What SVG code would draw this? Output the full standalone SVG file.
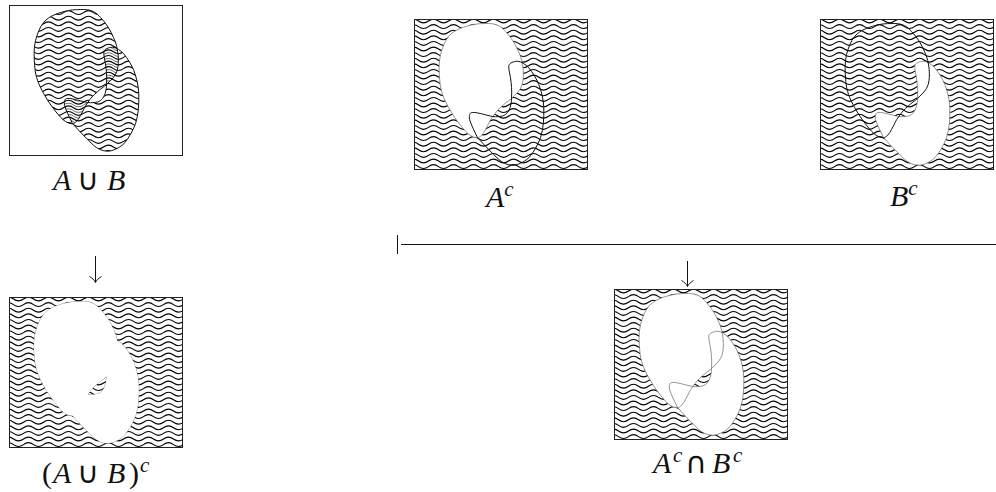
<svg xmlns="http://www.w3.org/2000/svg" width="996" height="492" viewBox="0 0 996 492">
<style>
.frame{fill:#fff;stroke:#222;stroke-width:1}
.box{fill:none;stroke:#222;stroke-width:1}
.bold{fill:none;stroke:#111;stroke-width:1}
.thin{fill:none;stroke:#666;stroke-width:.7}
.white{fill:#fff;stroke:none}
.w{fill:none;stroke:#000;stroke-width:1.1}
.lobe{stroke-width:.6;stroke:#000;fill:none}
text{font-family:"Liberation Serif","Times New Roman",serif;font-size:30px;fill:#111}
.i{font-style:italic}
.sup{font-size:21px;font-style:italic}
.op{font-family:"DejaVu Sans",sans-serif;font-size:30px;font-style:normal}
.conn{fill:none;stroke:#111;stroke-width:1}
</style>
<defs>
<path id="wl" d="M-6,0 c3,-2.3 7,-2.3 10,0 s7,2.3 10,0 s7,-2.3 10,0 s7,2.3 10,0 s7,-2.3 10,0 s7,2.3 10,0 s7,-2.3 10,0 s7,2.3 10,0 s7,-2.3 10,0 s7,2.3 10,0 s7,-2.3 10,0 s7,2.3 10,0 s7,-2.3 10,0 s7,2.3 10,0 s7,-2.3 10,0 s7,2.3 10,0 s7,-2.3 10,0 s7,2.3 10,0 s7,-2.3 10,0"/>
<g id="waves">
<use href="#wl" y="1.5"/><use href="#wl" y="7.1"/><use href="#wl" y="12.7"/><use href="#wl" y="18.3"/><use href="#wl" y="23.9"/><use href="#wl" y="29.5"/><use href="#wl" y="35.1"/><use href="#wl" y="40.7"/><use href="#wl" y="46.3"/><use href="#wl" y="51.9"/><use href="#wl" y="57.5"/><use href="#wl" y="63.1"/><use href="#wl" y="68.7"/><use href="#wl" y="74.3"/><use href="#wl" y="79.9"/><use href="#wl" y="85.5"/><use href="#wl" y="91.1"/><use href="#wl" y="96.7"/><use href="#wl" y="102.3"/><use href="#wl" y="107.9"/><use href="#wl" y="113.5"/><use href="#wl" y="119.1"/><use href="#wl" y="124.7"/><use href="#wl" y="130.3"/><use href="#wl" y="135.9"/><use href="#wl" y="141.5"/><use href="#wl" y="147.1"/>
</g>
<path id="A" d="M59,5 C64,4 70,4 74,4 C82,4 87,7 91,12 C97,18 101,25 104,32 C107,38 108,44 108.7,50 C109,56 109,60 107.7,65 C106,71 102,74 97,79 C94,81.5 91,83.5 87.7,86.5 C84,89.5 81,93 78.3,97 C75,101 74,105 71,110 C69,114 66,118 62.7,118.3 C58,118 54,115 51,111.7 C45,105 39,97 34.3,88.3 C29,79 26,71 25.3,61.7 C24.5,52 24,44 26,35 C28,28 30,22 34.3,16.7 C40,10 50,7 59,5 Z"/>
<path id="B" d="M94.3,46 C95,43.5 99,42 102.7,41.7 C107,42 111,45 114.3,48.3 C118,53 122,59 124.3,65 C127,72 129,80 129.3,88.3 C129.5,99 129,109 126,118.3 C123,126 119,133 114.3,138.3 C109,143 103,145.7 97.7,145.7 C92,145.5 88,143 84.3,140 C78,134 71,127 63,118 C60,112 57,106 55,100 C54.5,96 55,93 57.7,93 C61,92.5 65,94 68,94.5 C72,95.5 75,96.5 78.3,97 C82,97.5 85,97 88,96.5 C92,95.5 95,91 96,86.5 C96.8,84 97,81 97,79 C97.5,71 97,65 96,58.3 C95,53 94,49 94.3,46 Z"/>
<clipPath id="clipA"><use href="#A"/></clipPath>
<clipPath id="clipB"><use href="#B"/></clipPath>
<clipPath id="clipU"><use href="#A"/><use href="#B"/></clipPath>
<clipPath id="clipF"><rect width="173" height="150"/></clipPath>
<marker id="head" viewBox="0 0 14 10" refX="7" refY="9" markerWidth="14" markerHeight="10" markerUnits="userSpaceOnUse" orient="0">
<path d="M1,3.5 C3.5,5 6,7 7,9.5 C8,7 10.5,5 13,3.5" fill="none" stroke="#111" stroke-width="1"/>
</marker>
</defs>
<rect width="996" height="492" fill="#fff"/>

<g id="union" transform="translate(9.5,5.5)">
<rect class="frame" width="173" height="150"/>
<g clip-path="url(#clipU)"><use href="#waves" class="w"/></g>
<g clip-path="url(#clipA)"><g clip-path="url(#clipB)"><use href="#waves" y="2.8" class="lobe"/></g></g>
<use href="#A" class="bold"/>
<use href="#B" class="bold"/>
</g>
<text id="label-union" y="190"><tspan class="i" x="53">A</tspan><tspan class="op" x="77">∪</tspan><tspan class="i" x="107">B</tspan></text>

<g id="comp-a" transform="translate(414.5,19.5)">
<rect class="frame" width="173" height="150"/>
<g clip-path="url(#clipF)"><use href="#waves" class="w"/></g>
<use href="#A" class="white"/>
<use href="#A" class="thin"/>
<use href="#B" class="bold"/>
<rect class="box" width="173" height="150"/>
</g>
<text id="label-comp-a" x="486" y="207" class="i">A<tspan class="sup" dy="-11">c</tspan></text>

<g id="comp-b" transform="translate(820.5,19.5)">
<rect class="frame" width="173" height="150"/>
<g clip-path="url(#clipF)"><use href="#waves" class="w"/></g>
<use href="#B" class="white"/>
<use href="#B" class="thin"/>
<use href="#A" class="bold"/>
<rect class="box" width="173" height="150"/>
</g>
<text id="label-comp-b" x="890" y="206" class="i">B<tspan class="sup" dy="-11">c</tspan></text>

<g id="comp-union" transform="translate(9.5,297.5)">
<rect class="frame" width="173" height="150"/>
<g clip-path="url(#clipF)"><use href="#waves" class="w"/></g>
<use href="#A" class="thin"/>
<use href="#B" class="thin"/>
<use href="#A" class="white"/>
<use href="#B" class="white"/>
<rect class="box" width="173" height="150"/>
</g>
<text id="label-comp-union" y="483"><tspan x="42">(</tspan><tspan class="i" x="53">A</tspan><tspan class="op" x="77">∪</tspan><tspan class="i" x="107">B</tspan><tspan x="129">)</tspan><tspan class="sup" x="140" dy="-11">c</tspan></text>

<g id="intersection" transform="translate(614.5,289.5)">
<rect class="frame" width="173" height="150"/>
<g clip-path="url(#clipF)"><use href="#waves" class="w"/></g>
<use href="#A" class="white"/>
<use href="#B" class="white"/>
<use href="#A" class="thin"/>
<use href="#B" class="thin"/>
<rect class="box" width="173" height="150"/>
</g>
<text id="label-intersection" y="473"><tspan class="i" x="653">A</tspan><tspan class="sup" x="673" dy="-11">c</tspan><tspan class="op" x="685" dy="11">∩</tspan><tspan class="i" x="712">B</tspan><tspan class="sup" x="733" dy="-11">c</tspan></text>

<g id="connectors">
<path class="conn" d="M95.5,256 V282" marker-end="url(#head)"/>
<path class="conn" d="M687.5,261 V286" marker-end="url(#head)"/>
<path class="conn" d="M397.5,235 V254"/>
<path class="conn" d="M401,244.5 H996"/>
</g>
</svg>
